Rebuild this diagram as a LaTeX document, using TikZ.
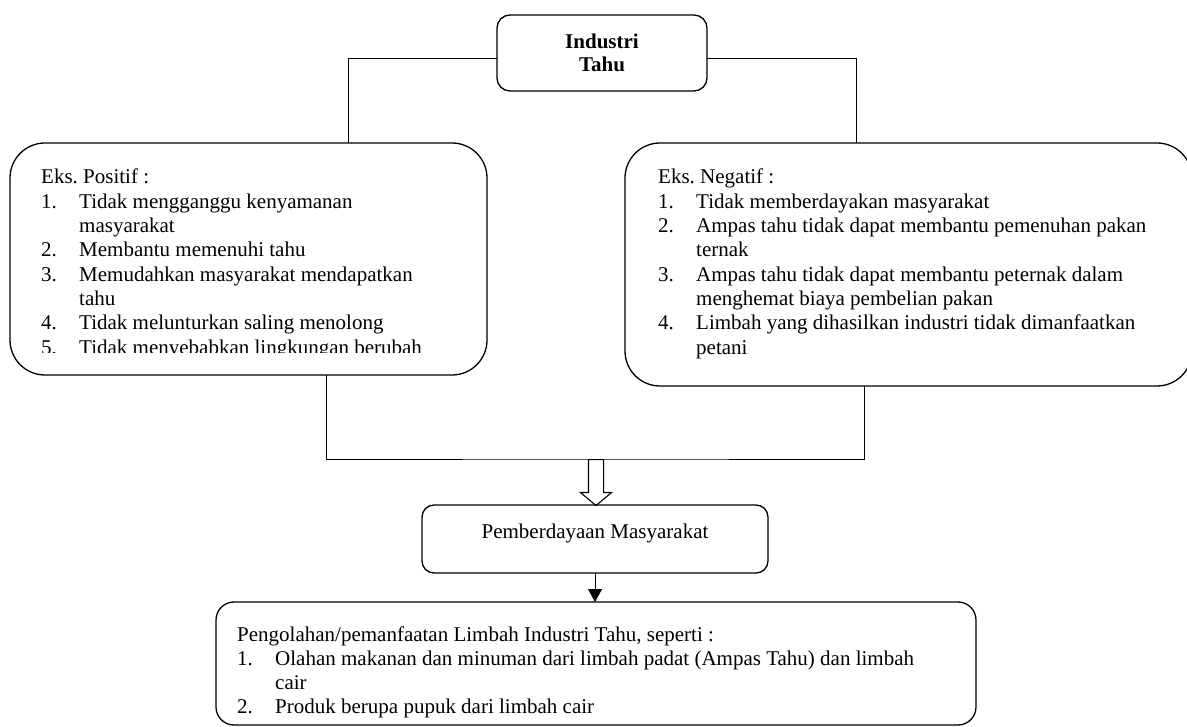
\documentclass[tikz,border=0pt]{standalone}
\usepackage{fontspec}
\setmainfont{Liberation Serif}
\usetikzlibrary{arrows.meta,shapes.arrows}
\frenchspacing

\begin{document}
\begin{tikzpicture}[x=1pt, y=-1pt,
    box/.style={draw, line width=1.3pt, rounded corners=#1, inner sep=0pt, outer sep=0pt, anchor=north west},
    box/.default=35pt,
    txt/.style={inner sep=0pt, anchor=base west},
    link/.style={line width=1pt},
    hollow/.style={single arrow, draw, line width=1.1pt, shape border rotate=270, inner sep=7pt,
      minimum height=46pt, single arrow head extend=8pt, single arrow tip angle=100},
    font=\fontsize{21}{24.3}\selectfont]
  \useasboundingbox (0,0) rectangle (1187,727);
  % Boxes
  \node[box=13pt, minimum width=210pt, minimum height=76pt, align=center,
    font=\fontsize{21}{23}\selectfont\bfseries] (ind) at (497,15) {Industri\\Tahu};
  \node[box, minimum width=477pt, minimum height=232pt] (pos) at (10,143) {};
  \node[box, minimum width=567pt, minimum height=243pt] (neg) at (625,143) {};
  \node[box=12pt, minimum width=346pt, minimum height=68pt, text height=14pt, text depth=16pt]
    (pm) at (422,505) {Pemberdayaan Masyarakat};
  \node[box=18pt, minimum width=760pt, minimum height=123pt] (olah) at (216,602) {};
  % Lists inside the boxes (last line of the left one is cut off)
  \begin{scope}
    \clip (pos.north west) rectangle ([yshift=22pt]pos.south east);
    \node[txt] (posT) at (41,184) {\begin{tabular}[t]{@{}p{38pt}@{}l@{}}
      \multicolumn{2}{@{}l@{}}{Eks. Positif :}\\
      1. & Tidak mengganggu kenyamanan\\
         & masyarakat\\
      2. & Membantu memenuhi tahu\\
      3. & Memudahkan masyarakat mendapatkan\\
         & tahu\\
      4. & Tidak melunturkan saling menolong\\
      5. & Tidak menyebabkan lingkungan berubah
    \end{tabular}};
  \end{scope}
  \node[txt] (negT) at (658,184) {\begin{tabular}[t]{@{}p{38pt}@{}l@{}}
    \multicolumn{2}{@{}l@{}}{Eks. Negatif :}\\
    1. & Tidak memberdayakan masyarakat\\
    2. & Ampas tahu tidak dapat membantu pemenuhan pakan\\
       & ternak\\
    3. & Ampas tahu tidak dapat membantu peternak dalam\\
       & menghemat biaya pembelian pakan\\
    4. & Limbah yang dihasilkan industri tidak dimanfaatkan\\
       & petani
  \end{tabular}};
  \node[txt] (olahT) at (237,641) {\begin{tabular}[t]{@{}p{38pt}@{}l@{}}
    \multicolumn{2}{@{}l@{}}{Pengolahan/pemanfaatan Limbah Industri Tahu, seperti :}\\
    1. & Olahan makanan dan minuman dari limbah padat (Ampas Tahu) dan limbah\\
       & cair\\
    2. & Produk berupa pupuk dari limbah cair
  \end{tabular}};
  % Connectors
  \coordinate (tl) at (348,143);
  \coordinate (tr) at (856,143);
  \coordinate (bl) at (326,375);
  \coordinate (br) at (864,386);
  \coordinate (jn) at (596,459);
  \draw[link] ([yshift=-6pt]ind.west) -| (tl);
  \draw[link] ([yshift=-6pt]ind.east) -| (tr);
  \draw[link] (bl) |- (jn) -| (br);
  \node[hollow, anchor=tail] (arr) at (jn) {};
  \draw[link, -{Triangle[length=13pt, width=14pt]}] (pm.south) -- (pm.south |- olah.north);
\end{tikzpicture}
\end{document}
